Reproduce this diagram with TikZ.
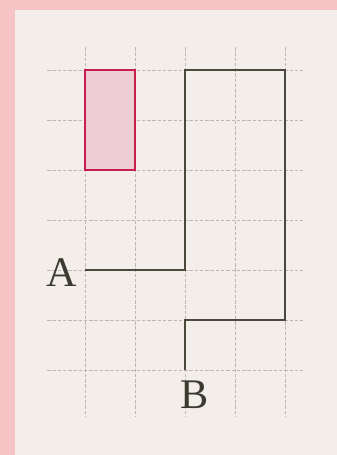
\documentclass[tikz,border=0pt]{standalone}
\usepackage{fontspec}
\setmainfont{Liberation Serif}
\definecolor{paper}{HTML}{F3EEEA}
\definecolor{frame}{HTML}{F6C4C4}
\definecolor{gridc}{HTML}{BDB7AF}
\definecolor{pathc}{HTML}{4A4A3C}
\definecolor{rectfill}{HTML}{EBCDD3}
\definecolor{rectline}{HTML}{C81E4E}
\tikzset{
  gridline/.style={gridc, line width=0.5pt, dash pattern=on 2pt off 1pt},
  route/.style={pathc, line width=1.3pt, line join=miter},
  marked/.style={fill=rectfill, draw=rectline, line width=1.7pt},
  ptlabel/.style={font=\fontsize{24}{24}\selectfont, text=pathc!80!black, inner sep=0pt}
}
\begin{document}
\begin{tikzpicture}
\useasboundingbox (-1.7,1.4) rectangle (5.04,-7.7);
\fill[frame] (-1.7,1.4) rectangle (5.04,-7.7);
\fill[paper] (-1.4,1.2) rectangle (5.04,-7.7);
% grid
\foreach \r in {0,...,6} \draw[gridline] (-0.76,-\r) -- (4.36,-\r);
\foreach \c in {0,...,4} \draw[gridline] (\c,0.46) -- (\c,-6.94);
% shaded rectangle
\draw[marked] (0,0) rectangle (1,-2);
% route
\coordinate (a) at (0,-4);
\coordinate (p1) at (2,-4);
\coordinate (p2) at (2,0);
\coordinate (p3) at (4,0);
\coordinate (p4) at (4,-5);
\coordinate (p5) at (2,-5);
\coordinate (b) at (2,-6);
\draw[route] (a) -- (p1) -- (p2) -- (p3) -- (p4) -- (p5) -- (b);
\node[ptlabel] (la) at (-0.46,-4.06) {A};
\node[ptlabel] (lb) at (2.2,-6.5) {B};
\end{tikzpicture}
\end{document}
